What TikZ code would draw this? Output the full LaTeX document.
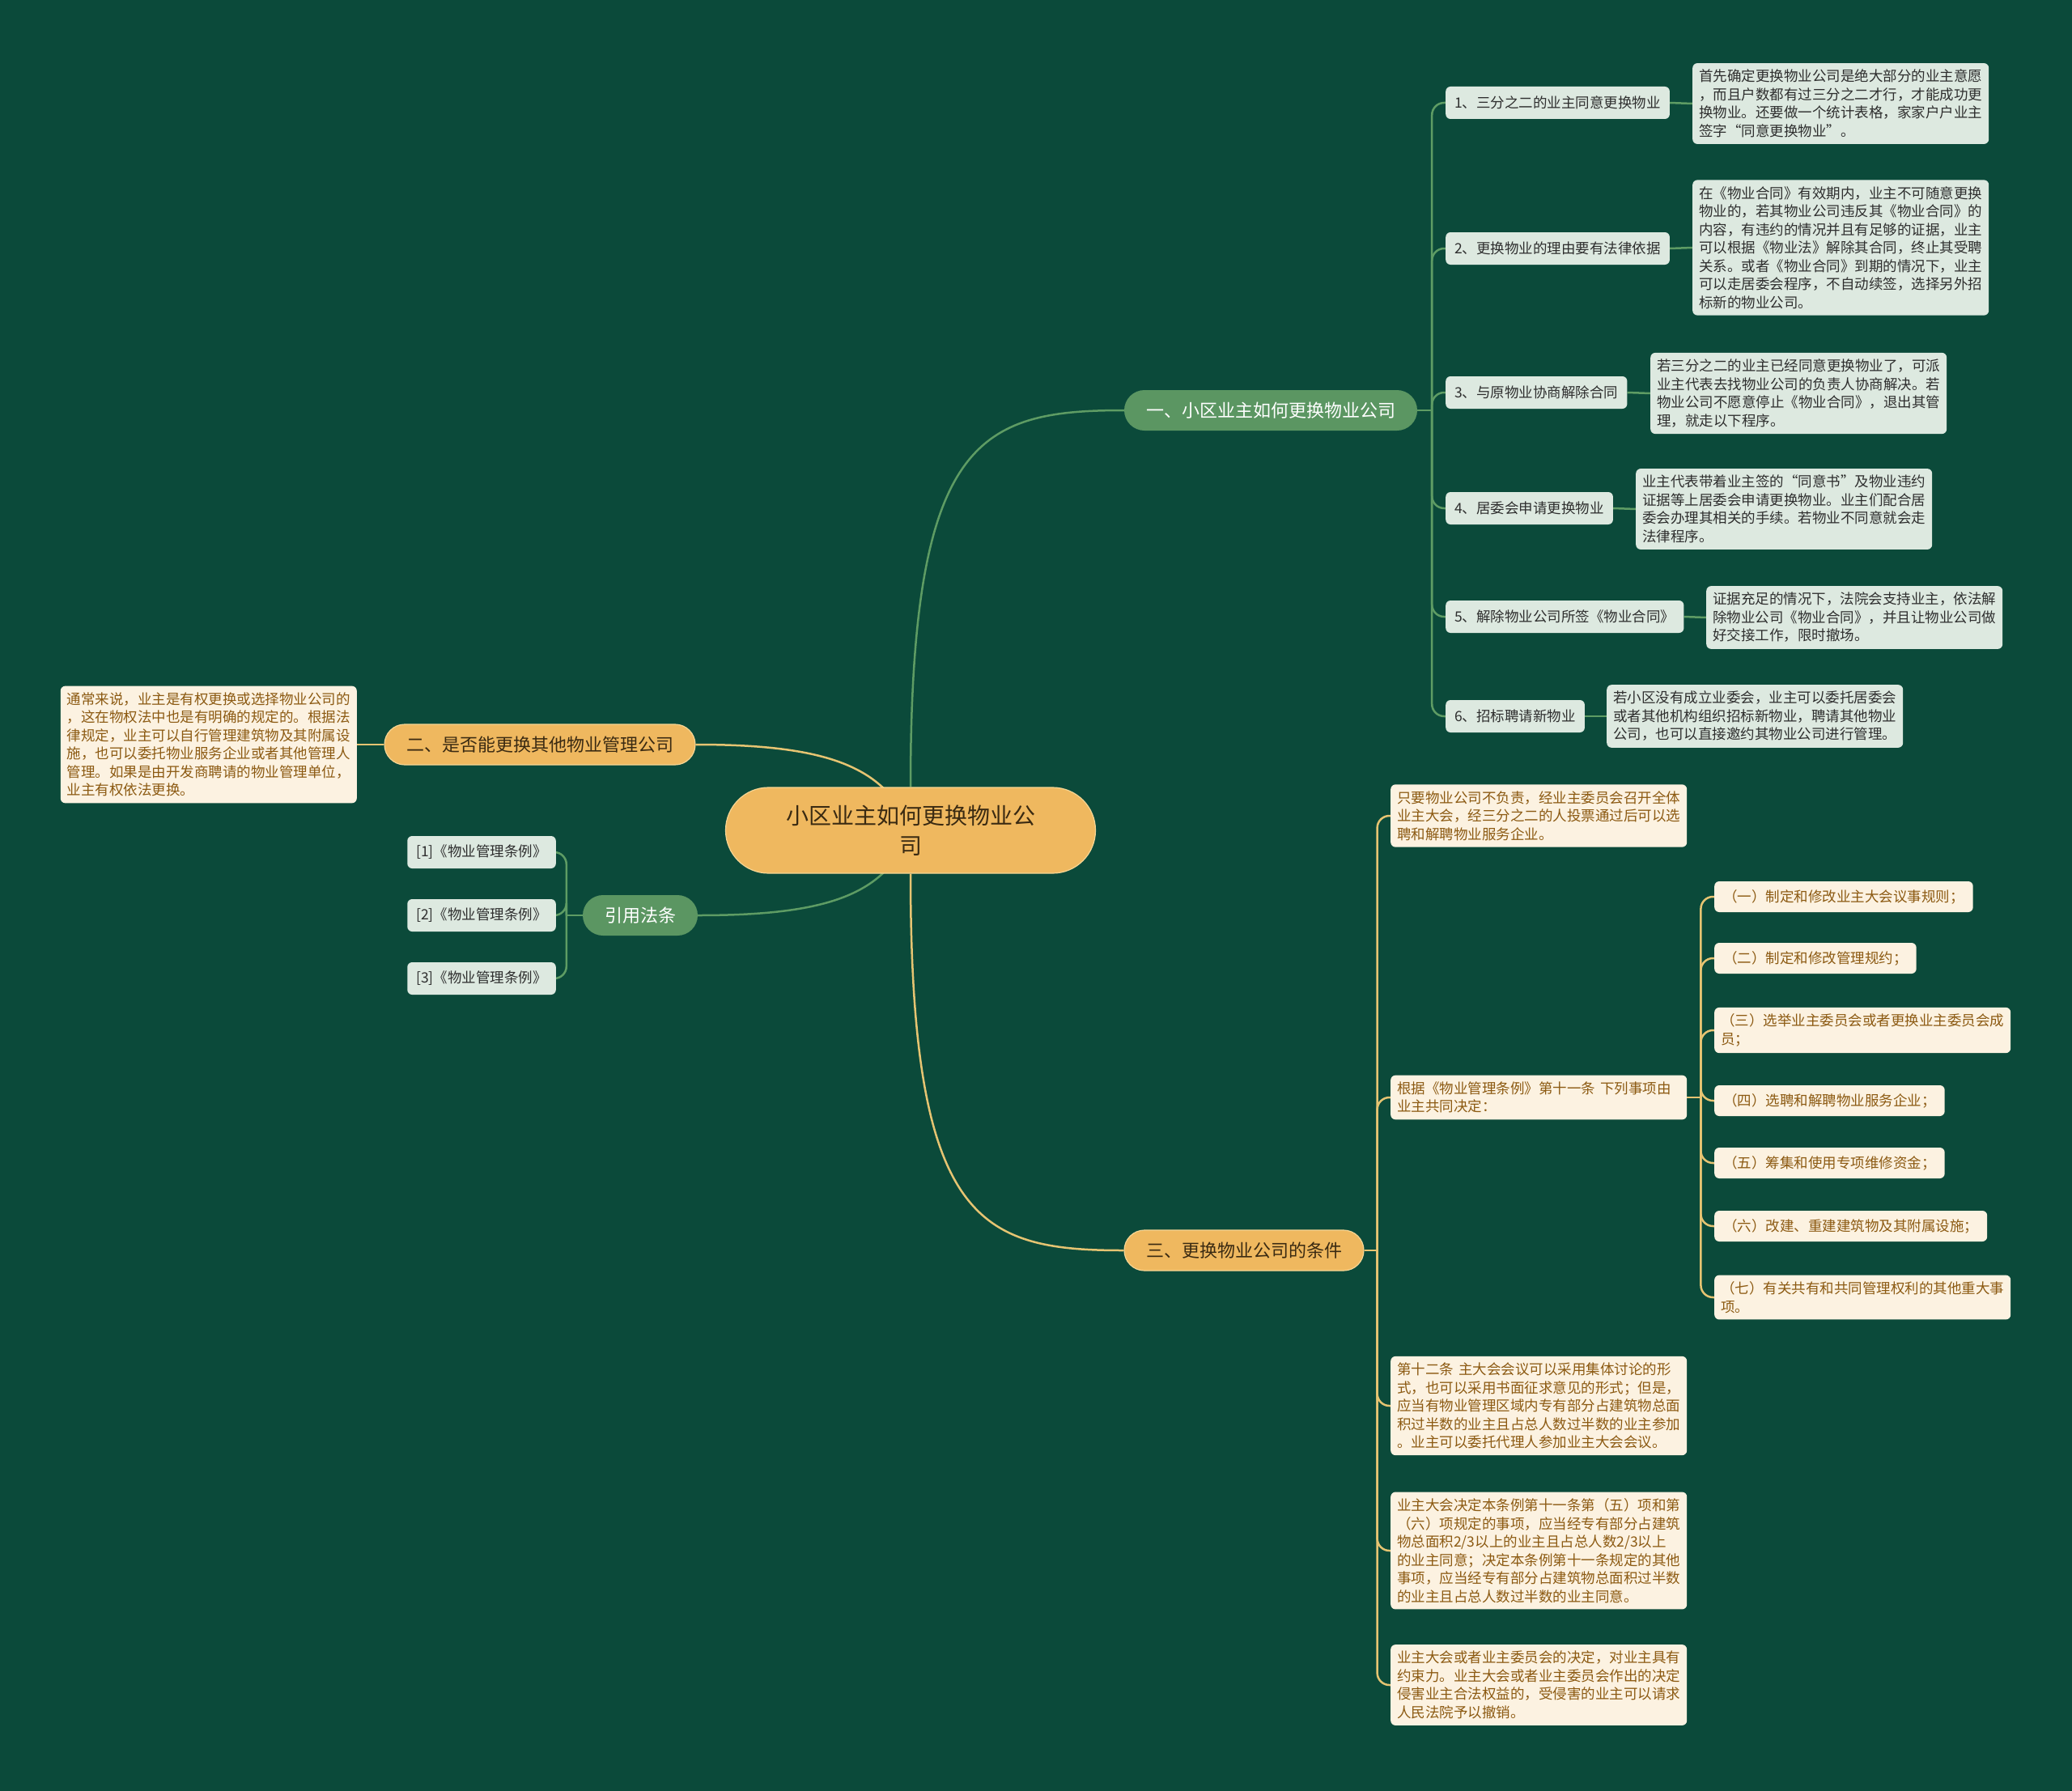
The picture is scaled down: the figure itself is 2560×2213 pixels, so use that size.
\documentclass[tikz,border=0pt]{standalone}
\usepackage{fontspec}
\newfontfamily\cjk{Noto Sans CJK SC}
\usepackage{xcolor}
\usepackage{tikz}
\usetikzlibrary{positioning,backgrounds,calc}

\definecolor{bgdark}{HTML}{0B4A3A}
\definecolor{pillgreen}{HTML}{5B9662}
\definecolor{pillorange}{HTML}{EFB85F}
\definecolor{pillrim}{HTML}{F6D593}
\definecolor{pilltext}{HTML}{3A2A12}
\definecolor{leafgray}{HTML}{DDE9E0}
\definecolor{leaftext}{HTML}{2E2E2E}
\definecolor{notecream}{HTML}{FCF2E1}
\definecolor{notebrown}{HTML}{8C5A12}
\definecolor{linkgreen}{HTML}{5E9C64}
\definecolor{linkgold}{HTML}{E6C472}

\begin{document}
\begin{tikzpicture}[x=1pt, y=-1pt, font=\cjk,
    topic/.style={rounded corners=25pt, minimum height=50pt, inner xsep=27pt,
      font=\cjk\fontsize{22}{26}\selectfont},
    gtopic/.style={topic, fill=pillgreen, text=white},
    otopic/.style={topic, fill=pillorange, draw=pillrim, line width=1.2pt, text=pilltext},
    leaf/.style={fill=leafgray, text=leaftext, rounded corners=6pt, minimum height=40pt,
      inner xsep=11pt, font=\cjk\fontsize{17.5}{22.5}\selectfont},
    detail/.style={leaf, align=left, text width=350pt, inner xsep=8pt, inner ysep=8pt},
    item/.style={fill=notecream, text=notebrown, rounded corners=6pt, minimum height=38pt,
      inner xsep=11pt, font=\cjk\fontsize{17.5}{22.5}\selectfont},
    note/.style={item, align=left, text width=350pt, inner xsep=8pt, inner ysep=8pt},
    glink/.style={draw=linkgreen, line width=2.5pt},
    olink/.style={draw=linkgold, line width=2.5pt},
    elbow/.style={rounded corners=15pt}]

  % Root
  \node[fill=pillorange, draw=pillrim, line width=1.2pt, text=pilltext, rounded corners=53pt,
    minimum width=457pt, minimum height=106pt, align=center,
    font=\cjk\fontsize{28}{37}\selectfont] (root) at (1125,1026) {小区业主如何更换物业公\\司};

  % Main topics
  \node[gtopic] (b1) at (1570,507) {一、小区业主如何更换物业公司};
  \node[otopic] (b2) at (667,920) {二、是否能更换其他物业管理公司};
  \node[gtopic] (b3) at (791,1131) {引用法条};
  \node[otopic] (b4) at (1537,1545) {三、更换物业公司的条件};

  % Branch one: steps
  \node[leaf, anchor=west] (l1) at (1786,127) {1、三分之二的业主同意更换物业};
  \node[leaf, anchor=west] (l2) at (1786,307) {2、更换物业的理由要有法律依据};
  \node[leaf, anchor=west] (l3) at (1786,485) {3、与原物业协商解除合同};
  \node[leaf, anchor=west] (l4) at (1786,628) {4、居委会申请更换物业};
  \node[leaf, anchor=west] (l5) at (1786,762) {5、解除物业公司所签《物业合同》};
  \node[leaf, anchor=west] (l6) at (1786,885) {6、招标聘请新物业};

  \node[detail, anchor=west] (d1) at (2091,128) {首先确定更换物业公司是绝大部分的业主意愿\\，而且户数都有过三分之二才行，才能成功更\\换物业。还要做一个统计表格，家家户户业主\\签字“同意更换物业”。};
  \node[detail, anchor=west] (d2) at (2091,306) {在《物业合同》有效期内，业主不可随意更换\\物业的，若其物业公司违反其《物业合同》的\\内容，有违约的情况并且有足够的证据，业主\\可以根据《物业法》解除其合同，终止其受聘\\关系。或者《物业合同》到期的情况下，业主\\可以走居委会程序，不自动续签，选择另外招\\标新的物业公司。};
  \node[detail, anchor=west] (d3) at (2039,486) {若三分之二的业主已经同意更换物业了，可派\\业主代表去找物业公司的负责人协商解决。若\\物业公司不愿意停止《物业合同》，退出其管\\理，就走以下程序。};
  \node[detail, anchor=west] (d4) at (2021,629) {业主代表带着业主签的“同意书”及物业违约\\证据等上居委会申请更换物业。业主们配合居\\委会办理其相关的手续。若物业不同意就会走\\法律程序。};
  \node[detail, anchor=west] (d5) at (2108,763) {证据充足的情况下，法院会支持业主，依法解\\除物业公司《物业合同》，并且让物业公司做\\好交接工作，限时撤场。};
  \node[detail, anchor=west] (d6) at (1985,885) {若小区没有成立业委会，业主可以委托居委会\\或者其他机构组织招标新物业，聘请其他物业\\公司，也可以直接邀约其物业公司进行管理。};

  % Branch two
  \node[note, anchor=east] (t2) at (441,920) {通常来说，业主是有权更换或选择物业公司的\\，这在物权法中也是有明确的规定的。根据法\\律规定，业主可以自行管理建筑物及其附属设\\施，也可以委托物业服务企业或者其他管理人\\管理。如果是由开发商聘请的物业管理单位，\\业主有权依法更换。};

  % Cited laws
  \node[leaf, anchor=east] (r1) at (687,1053) {[1]《物业管理条例》};
  \node[leaf, anchor=east] (r2) at (687,1131) {[2]《物业管理条例》};
  \node[leaf, anchor=east] (r3) at (687,1209) {[3]《物业管理条例》};

  % Branch three
  \node[note, anchor=west] (c1) at (1718,1008) {只要物业公司不负责，经业主委员会召开全体\\业主大会，经三分之二的人投票通过后可以选\\聘和解聘物业服务企业。};
  \node[note, anchor=west] (c2) at (1718,1356) {根据《物业管理条例》第十一条~下列事项由\\业主共同决定：};
  \node[note, anchor=west] (c3) at (1718,1737) {第十二条~主大会会议可以采用集体讨论的形\\式，也可以采用书面征求意见的形式；但是，\\应当有物业管理区域内专有部分占建筑物总面\\积过半数的业主且占总人数过半数的业主参加\\。业主可以委托代理人参加业主大会会议。};
  \node[note, anchor=west] (c4) at (1718,1916) {业主大会决定本条例第十一条第（五）项和第\\（六）项规定的事项，应当经专有部分占建筑\\物总面积2/3以上的业主且占总人数2/3以上\\的业主同意；决定本条例第十一条规定的其他\\事项，应当经专有部分占建筑物总面积过半数\\的业主且占总人数过半数的业主同意。};
  \node[note, anchor=west] (c5) at (1718,2082) {业主大会或者业主委员会的决定，对业主具有\\约束力。业主大会或者业主委员会作出的决定\\侵害业主合法权益的，受侵害的业主可以请求\\人民法院予以撤销。};

  \node[item, anchor=west] (s1) at (2118,1108) {（一）制定和修改业主大会议事规则；};
  \node[item, anchor=west] (s2) at (2118,1184) {（二）制定和修改管理规约；};
  \node[note, anchor=west] (s3) at (2118,1273) {（三）选举业主委员会或者更换业主委员会成\\员；};
  \node[item, anchor=west] (s4) at (2118,1360) {（四）选聘和解聘物业服务企业；};
  \node[item, anchor=west] (s5) at (2118,1437) {（五）筹集和使用专项维修资金；};
  \node[item, anchor=west] (s6) at (2118,1515) {（六）改建、重建建筑物及其附属设施；};
  \node[note, anchor=west] (s7) at (2118,1603) {（七）有关共有和共同管理权利的其他重大事\\项。};

  \begin{scope}[on background layer]
    \fill[bgdark] (0,0) rectangle (2560,2213);

    % Root links
    \draw[glink] (root.north) .. controls +(0,-430) and +(-180,0) .. (b1.west);
    \draw[olink] (root.south) .. controls +(0,430) and +(-180,0) .. (b4.west);
    \draw[olink] (b2.east) .. controls +(160,0) and +(-30,-80) .. (root.center);
    \draw[glink] (b3.east) .. controls +(160,0) and +(-30,80) .. (root.center);

    % Spines
    \draw[glink] (b1.east) -- ++(18,0) coordinate (j1);
    \draw[glink] (b3.west) -- ++(-20,0) coordinate (j3);
    \draw[olink] (b4.east) -- ++(16,0) coordinate (j4);
    \draw[olink] (c2.east) -- ++(17,0) coordinate (j5);

    % Branch links
    \foreach \i in {1,...,6} {
      \draw[glink, elbow] (j1) |- (l\i.west);
      \draw[glink] (l\i.east) -- (d\i.west);
    }
    \draw[olink] (b2.west) -- (t2.east);
    \foreach \i in {1,2,3}
      \draw[glink, elbow] (j3) |- (r\i.east);
    \foreach \i in {1,...,5}
      \draw[olink, elbow] (j4) |- (c\i.west);
    \foreach \i in {1,...,7}
      \draw[olink, elbow] (j5) |- (s\i.west);
  \end{scope}

\end{tikzpicture}
\end{document}
